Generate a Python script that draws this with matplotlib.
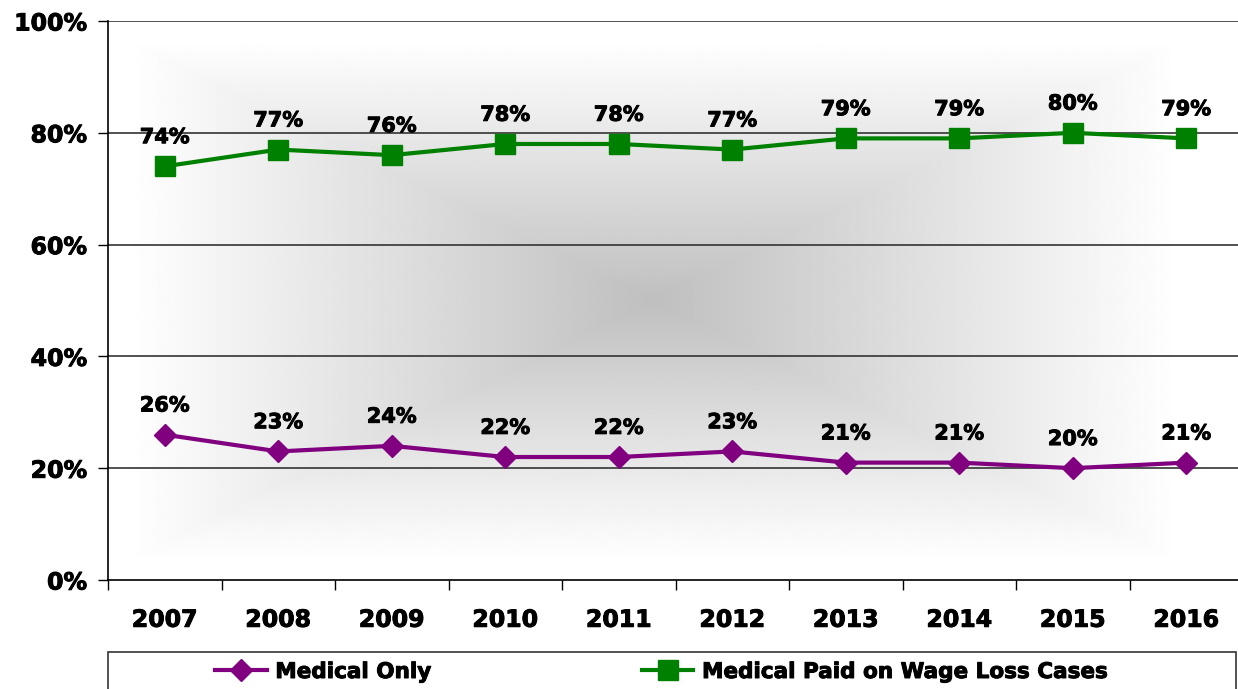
import numpy as np
import matplotlib
matplotlib.use("Agg")
import matplotlib.pyplot as plt
import matplotlib.patheffects as pe
from matplotlib.patches import Rectangle

years = ["2007", "2008", "2009", "2010", "2011", "2012", "2013", "2014", "2015", "2016"]
medical_only = [26, 23, 24, 22, 22, 23, 21, 21, 20, 21]
medical_wage_loss = [74, 77, 76, 78, 78, 77, 79, 79, 80, 79]
y_ticks = [0, 20, 40, 60, 80, 100]

GREEN = "#008000"
PURPLE = "#800080"

plt.rcParams["font.family"] = ["DejaVu Sans"]
plt.rcParams["font.weight"] = "bold"

# make the bold text a bit heavier, like the original
heavy = [pe.withStroke(linewidth=0.7, foreground="black")]

W, H = 1238, 689
fig = plt.figure(figsize=(W / 100, H / 100), dpi=100)
ax = fig.add_axes([108 / W, (H - 580) / H, (1243 - 108) / W, (580 - 21) / H])

x = np.arange(len(years))
ax.set_xlim(-0.5, len(years) - 0.5)
ax.set_ylim(0, 100)

# rectangular "from centre" gradient, grey in the middle, white at the edges
gx, gy = np.meshgrid(np.linspace(-1, 1, 500), np.linspace(-1, 1, 400))
gx = gx + 0.04
d = np.maximum(np.abs(gx), np.abs(gy)) / 0.93
d = np.clip(d, 0, 1)
shade = 0.75 + 0.25 * d
ax.imshow(shade, cmap="gray", vmin=0, vmax=1, extent=(-0.5, len(years) - 0.5, 0, 100),
          aspect="auto", zorder=0, interpolation="bilinear")

for yv in y_ticks[1:]:
    ax.axhline(yv, color="#333333", lw=1.2, zorder=1)

ax.plot(x, medical_only, color=PURPLE, lw=3, marker="D", markersize=11.5,
        label="Medical Only", zorder=3, clip_on=False)
ax.plot(x, medical_wage_loss, color=GREEN, lw=3, marker="s", markersize=14,
        label="Medical Paid on Wage Loss Cases", zorder=3, clip_on=False)

for xi, v in zip(x, medical_only):
    ax.annotate(f"{v}%", (xi, v), xytext=(0, 21), textcoords="offset points",
                ha="center", va="center", fontsize=15, fontweight="bold",
                path_effects=heavy)
for xi, v in zip(x, medical_wage_loss):
    ax.annotate(f"{v}%", (xi, v), xytext=(0, 21), textcoords="offset points",
                ha="center", va="center", fontsize=15, fontweight="bold",
                path_effects=heavy)

ax.set_yticks(y_ticks)
ax.set_yticklabels([f"{v}%" for v in y_ticks], fontsize=17, fontweight="bold")
ax.set_xticks(x)
ax.set_xticklabels(years, fontsize=17, fontweight="bold")
for lab in ax.get_xticklabels() + ax.get_yticklabels():
    lab.set_path_effects(heavy)
ax.set_xticks(np.arange(-0.5, len(years), 1), minor=True)
ax.tick_params(axis="x", which="major", length=0, pad=20)
ax.tick_params(axis="x", which="minor", length=7, width=1, direction="out")
ax.tick_params(axis="y", length=7, width=1, direction="out", pad=8)

for side in ["top", "right"]:
    ax.spines[side].set_visible(False)
ax.spines["left"].set_linewidth(1.2)
ax.spines["bottom"].set_linewidth(1.2)

# legend box at the bottom, cut off by the image edge
fig.patches.append(Rectangle((108 / W, (H - 700) / H), (1236 - 108) / W, 48 / H,
                             transform=fig.transFigure, facecolor="white",
                             edgecolor="#333333", lw=1.2))
leg = fig.legend(loc="center left", bbox_to_anchor=(215 / W, (H - 672) / H), ncol=2,
                 frameon=False, handlelength=2.4, handletextpad=0.4,
                 columnspacing=9.8, borderpad=0, borderaxespad=0,
                 prop={"weight": "bold", "size": 15.5})
for t in leg.get_texts():
    t.set_path_effects(heavy)

fig.savefig("out.png", dpi=100)
